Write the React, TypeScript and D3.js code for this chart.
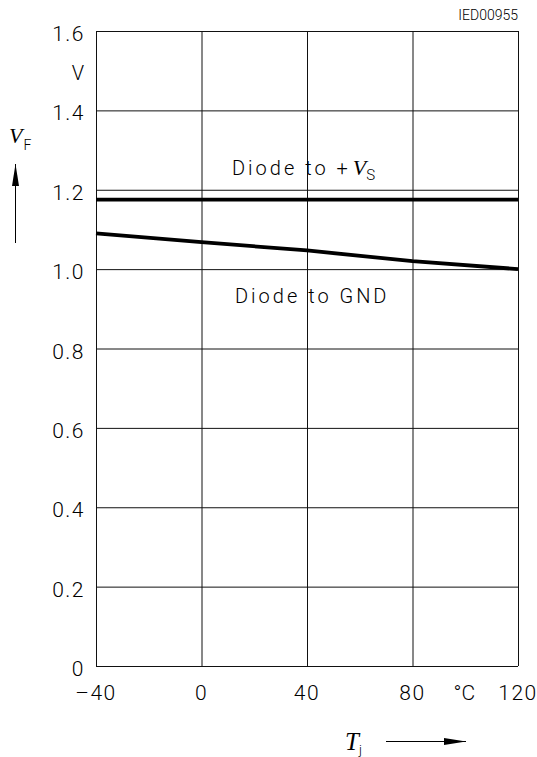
import React, { useEffect, useRef } from "react";
import * as d3 from "d3";

// Tj in °C
const temps = [-40, 0, 40, 80, 120];
// VF for diode to +VS (about flat)
const vfToVs = [1.175, 1.175, 1.175, 1.175, 1.175];
// VF for diode to GND
const vfToGnd = [1.09, 1.068, 1.047, 1.02, 1.0];

const xTicks = [-40, 0, 40, 80, 120];
const yTicks = [0, 0.2, 0.4, 0.6, 0.8, 1.0, 1.2, 1.4, 1.6];

const FONT = "Roboto, 'DejaVu Sans', sans-serif";
const SERIF = "'Liberation Serif', 'DejaVu Serif', serif";

function App() {
  const ref = useRef<SVGSVGElement>(null);

  useEffect(() => {
    const svg = d3.select(ref.current);
    svg.selectAll("*").remove();
    const margin = { left: 96, top: 31, right: 19, bottom: 91 };
    const width = 537;
    const height = 757;
    const innerWidth = width - margin.left - margin.right;
    const innerHeight = height - margin.top - margin.bottom;

    const x = d3.scaleLinear().domain([-40, 120]).range([0, innerWidth]);
    const y = d3.scaleLinear().domain([0, 1.6]).range([innerHeight, 0]);

    const defs = svg.append("defs");
    defs
      .append("marker")
      .attr("id", "arrow")
      .attr("viewBox", "0 0 22 8")
      .attr("refX", 22)
      .attr("refY", 4)
      .attr("markerWidth", 22)
      .attr("markerHeight", 8)
      .attr("markerUnits", "userSpaceOnUse")
      .attr("orient", "auto")
      .append("path")
      .attr("d", "M0,0.5 L22,4 L0,7.5 Z")
      .attr("fill", "#000");

    const g = svg
      .append("g")
      .attr("transform", `translate(${margin.left},${margin.top})`);

    // grid
    g.append("g")
      .selectAll("line")
      .data(yTicks)
      .enter()
      .append("line")
      .attr("x1", 0)
      .attr("x2", innerWidth)
      .attr("y1", (d) => y(d) + 0.5)
      .attr("y2", (d) => y(d) + 0.5)
      .attr("stroke", "#111")
      .attr("stroke-width", 1);
    g.append("g")
      .selectAll("line")
      .data(xTicks)
      .enter()
      .append("line")
      .attr("x1", (d) => x(d) + 0.5)
      .attr("x2", (d) => x(d) + 0.5)
      .attr("y1", 0)
      .attr("y2", innerHeight)
      .attr("stroke", "#111")
      .attr("stroke-width", 1);

    // curves
    const line = d3
      .line<number>()
      .x((_, i) => x(temps[i]))
      .y((d) => y(d));
    [vfToVs, vfToGnd].forEach((s) => {
      g.append("path")
        .attr("d", line(s))
        .attr("fill", "none")
        .attr("stroke", "#000")
        .attr("stroke-width", 3.8);
    });

    // y tick labels
    g.append("g")
      .selectAll("text")
      .data(yTicks)
      .enter()
      .append("text")
      .attr("x", -11)
      .attr("y", (d) => y(d) + 10)
      .attr("text-anchor", "end")
      .attr("font-family", FONT)
      .attr("font-weight", 300)
      .attr("font-size", 21)
      .attr("letter-spacing", 1.5)
      .text((d) => (d === 0 ? "0" : d.toFixed(1)));

    // x tick labels
    g.append("g")
      .selectAll("text")
      .data(xTicks)
      .enter()
      .append("text")
      .attr("x", (d) => x(d))
      .attr("y", innerHeight + 34)
      .attr("text-anchor", "middle")
      .attr("font-family", FONT)
      .attr("font-weight", 300)
      .attr("font-size", 21)
      .attr("letter-spacing", 1.5)
      .text((d) => (d < 0 ? "\u2013" + Math.abs(d) : String(d)));

    // units
    g.append("text")
      .attr("x", -18)
      .attr("y", 49)
      .attr("text-anchor", "middle")
      .attr("font-family", FONT)
      .attr("font-weight", 300)
      .attr("font-size", 20)
      .text("V");
    g.append("text")
      .attr("x", x(100) - 1)
      .attr("y", innerHeight + 34)
      .attr("text-anchor", "middle")
      .attr("font-family", FONT)
      .attr("font-weight", 300)
      .attr("font-size", 21)
      .text("\u00b0C");

    // series labels
    const t1 = g
      .append("text")
      .attr("x", 136)
      .attr("y", 144)
      .attr("font-family", FONT)
      .attr("font-weight", 300)
      .attr("font-size", 20)
      .attr("letter-spacing", 3);
    t1.append("tspan").text("Diode  to  +");
    t1.append("tspan")
      .attr("font-family", SERIF)
      .attr("font-style", "italic")
      .attr("font-weight", 400)
      .attr("font-size", 22)
      .attr("letter-spacing", 0)
      .attr("dx", 2)
      .text("V");
    t1.append("tspan").attr("font-size", 15).attr("dy", 5).text("S");

    g.append("text")
      .attr("x", 139)
      .attr("y", 272)
      .attr("font-family", FONT)
      .attr("font-weight", 300)
      .attr("font-size", 20)
      .attr("letter-spacing", 3)
      .text("Diode  to  GND");

    // axis titles
    const vf = svg
      .append("text")
      .attr("x", 9)
      .attr("y", 143)
      .attr("font-family", SERIF)
      .attr("font-style", "italic")
      .attr("font-size", 22);
    vf.append("tspan").text("V");
    vf.append("tspan")
      .attr("font-family", FONT)
      .attr("font-style", "normal")
      .attr("font-weight", 300)
      .attr("font-size", 14)
      .attr("dy", 7)
      .attr("dx", 1)
      .text("F");
    svg
      .append("line")
      .attr("x1", 15.5)
      .attr("x2", 15.5)
      .attr("y1", 243)
      .attr("y2", 164)
      .attr("stroke", "#000")
      .attr("stroke-width", 1)
      .attr("marker-end", "url(#arrow)");

    const tj = svg
      .append("text")
      .attr("x", 345)
      .attr("y", 750)
      .attr("font-family", SERIF)
      .attr("font-style", "italic")
      .attr("font-size", 25);
    tj.append("tspan").text("T");
    tj.append("tspan")
      .attr("font-family", FONT)
      .attr("font-style", "normal")
      .attr("font-weight", 300)
      .attr("font-size", 13)
      .attr("dy", 4)
      .text("j");
    svg
      .append("line")
      .attr("x1", 386)
      .attr("x2", 466)
      .attr("y1", 741.5)
      .attr("y2", 741.5)
      .attr("stroke", "#000")
      .attr("stroke-width", 1)
      .attr("marker-end", "url(#arrow)");

    // drawing id
    svg
      .append("text")
      .attr("x", 518)
      .attr("y", 20)
      .attr("text-anchor", "end")
      .attr("font-family", FONT)
      .attr("font-weight", 300)
      .attr("font-size", 14)
      .text("IED00955");
  }, []);

  return (
    <svg
      ref={ref}
      width={537}
      height={757}
      style={{ position: "absolute", left: 0, top: 0, background: "#fff" }}
    />
  );
}

export default App;
